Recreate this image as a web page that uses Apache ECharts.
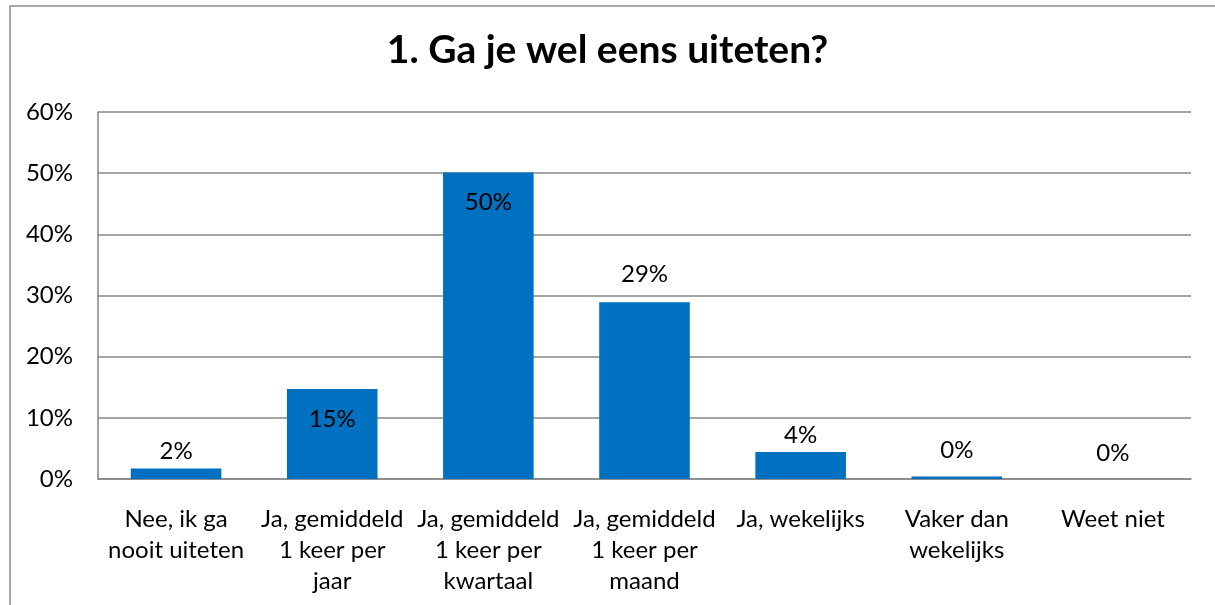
<!DOCTYPE html>
<html>
<head>
<meta charset="utf-8">
<script src="https://cdn.jsdelivr.net/npm/echarts@6/dist/echarts.min.js"></script>
<style>
  html, body { margin: 0; padding: 0; background: #fff; }
  #chart { width: 1215px; height: 605px; }
</style>
</head>
<body>
<div id="chart"></div>
<script>
// survey answers
const categories = [
  'Nee, ik ga\nnooit uiteten',
  'Ja, gemiddeld\n1 keer per\njaar',
  'Ja, gemiddeld\n1 keer per\nkwartaal',
  'Ja, gemiddeld\n1 keer per\nmaand',
  'Ja, wekelijks',
  'Vaker dan\nwekelijks',
  'Weet niet'
]
const percentages = [1.7, 14.7, 50.1, 28.9, 4.4, 0.4, 0]
const yTicks = [0, 10, 20, 30, 40, 50, 60]

const font = 'Lato, "Open Sans", sans-serif'
// label placement per bar, as in the original sheet
const labelPos = ['top', 'insideTop', 'insideTop', 'top', 'top', 'top', 'top']
const labelGap = [5, 18, 18, 16, 5, 14, 14]

const chart = echarts.init(document.getElementById('chart'))

chart.setOption({
  animation: false,
  textStyle: { fontFamily: font },
  title: {
    text: '1. Ga je wel eens uiteten?',
    left: 'center',
    top: 26,
    textStyle: { fontFamily: font, fontSize: 39, fontWeight: 'bold', color: '#000' }
  },
  graphic: [{
    type: 'rect',
    shape: { x: 10, y: 6, width: 1300, height: 700 },
    style: { fill: 'none', stroke: '#8a8a8a', lineWidth: 1.5 },
    silent: true
  }],
  grid: {
    left: 98,
    right: 24,
    top: 112,
    bottom: 126
  },
  xAxis: {
    type: 'category',
    data: categories,
    axisTick: { show: false },
    axisLine: { lineStyle: { color: '#868686', width: 1.5 } },
    axisLabel: {
      interval: 0,
      margin: 25,
      color: '#000',
      fontFamily: font,
      fontSize: 24,
      lineHeight: 31
    }
  },
  yAxis: {
    type: 'value',
    min: yTicks[0],
    max: yTicks[yTicks.length - 1],
    interval: yTicks[1] - yTicks[0],
    axisLine: { show: true, lineStyle: { color: '#868686', width: 1.5 } },
    axisTick: { show: false },
    splitLine: { lineStyle: { color: '#868686', width: 1.5 } },
    axisLabel: {
      margin: 25,
      color: '#000',
      fontFamily: font,
      fontSize: 24,
      formatter: '{value}%'
    }
  },
  series: [{
    type: 'bar',
    barCategoryGap: '42%',
    itemStyle: { color: '#0070C0' },
    data: percentages.map((v, i) => ({
      value: v,
      label: { position: labelPos[i], distance: labelGap[i] }
    })),
    label: {
      show: true,
      color: '#000',
      fontFamily: font,
      fontSize: 24,
      formatter: p => Math.round(p.value) + '%'
    }
  }]
})
</script>
</body>
</html>
